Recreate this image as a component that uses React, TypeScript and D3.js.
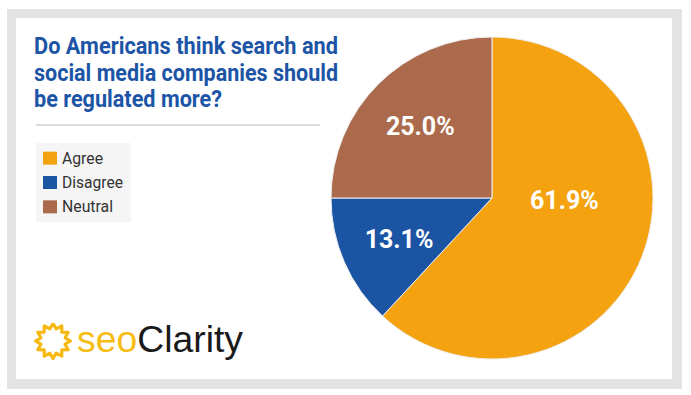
import React from "react";
import * as d3 from "d3";

const categories = ["Agree", "Disagree", "Neutral"];
const values = [61.9, 13.1, 25.0];
const colors = ["#f4a20f", "#1a54a3", "#ab6a4c"];
const titleLines = [
  "Do Americans think search and",
  "social media companies should",
  "be regulated more?",
];

const W = 691;
const H = 395;

export default function App() {
  const cx = 492;
  const cy = 198;
  const r = 161;

  const pie = d3
    .pie<number>()
    .sort(null)
    .value((d) => d)
    .startAngle(0)
    .endAngle(2 * Math.PI);
  const arcs = pie(values);
  const arc = d3.arc<d3.PieArcDatum<number>>().innerRadius(0).outerRadius(r);

  const maxIdx = values.indexOf(d3.max(values) as number);
  const labelPos = (d: d3.PieArcDatum<number>, i: number) => {
    let a = (d.startAngle + d.endAngle) / 2;
    let rr = r * 0.63;
    if (i === maxIdx) {
      a = a - (20 * Math.PI) / 180;
      rr = r * 0.45;
    }
    return [Math.sin(a) * rr, -Math.cos(a) * rr];
  };

  // sun icon zigzag
  const teeth = 12;
  const sunPts: [number, number][] = d3.range(teeth * 2 + 1).map((k) => [
    (k / (teeth * 2)) * 2 * Math.PI,
    k % 2 === 0 ? 17.5 : 12.5,
  ]);
  const sunPath = d3.lineRadial().curve(d3.curveLinear)(sunPts) || "";

  const legendY = d3.scaleBand<string>().domain(categories).range([146, 219]).paddingInner(0);

  return (
    <svg
      width={W}
      height={H}
      style={{ position: "absolute", left: 0, top: 0, background: "#fff" }}
      fontFamily="Roboto, 'Noto Sans', sans-serif"
    >
      <rect x={7} y={9} width={675} height={380} fill="#e3e3e3" />
      <rect x={16} y={18} width={656} height={361} fill="#ffffff" />

      <g transform="translate(34,0)">
        {titleLines.map((t, i) => (
          <text
            key={i}
            x={0}
            y={54 + i * 26.5}
            fontSize={24}
            fontWeight={700}
            fill="#1d55a6"
            textLength={i === 2 ? 188 : 304}
            lengthAdjust="spacingAndGlyphs"
          >
            {t}
          </text>
        ))}
      </g>
      <line x1={36} x2={320} y1={125} y2={125} stroke="#cfcfcf" strokeWidth={1.5} />

      <rect x={36} y={143} width={95} height={79} fill="#f5f5f5" />
      {categories.map((c, i) => {
        const y = (legendY(c) as number) + legendY.bandwidth() / 2;
        return (
          <g key={c}>
            <rect x={43} y={y - 6.5} width={14} height={13} fill={colors[i]} />
            <text x={62} y={y + 5.5} fontSize={16} fill="#333" textLength={[41, 61, 51][i]} lengthAdjust="spacingAndGlyphs">
              {c}
            </text>
          </g>
        );
      })}

      <g transform={`translate(${cx},${cy})`}>
        {arcs.map((d, i) => (
          <path key={i} d={arc(d) || ""} fill={colors[i]} stroke="#eee" strokeWidth={1} />
        ))}
        {arcs.map((d, i) => {
          const [x, y] = labelPos(d, i);
          return (
            <text
              key={"l" + i}
              x={x}
              y={y}
              dy="0.36em"
              textAnchor="middle"
              fontSize={25}
              fontWeight={700}
              fill="#ffffff"
            >
              {values[i].toFixed(1)}%
            </text>
          );
        })}
      </g>

      <g transform="translate(53,341)">
        <path d={sunPath} fill="none" stroke="#f7b90f" strokeWidth={3.2} strokeLinejoin="round" />
      </g>
      <text
        x={77}
        y={352}
        fontSize={37}
        fontFamily="'Liberation Sans', Arial, sans-serif"
        textLength={166}
        lengthAdjust="spacingAndGlyphs"
      >
        <tspan fill="#f5bd13">seo</tspan>
        <tspan fill="#1a1a1a">Clarity</tspan>
      </text>
    </svg>
  );
}
